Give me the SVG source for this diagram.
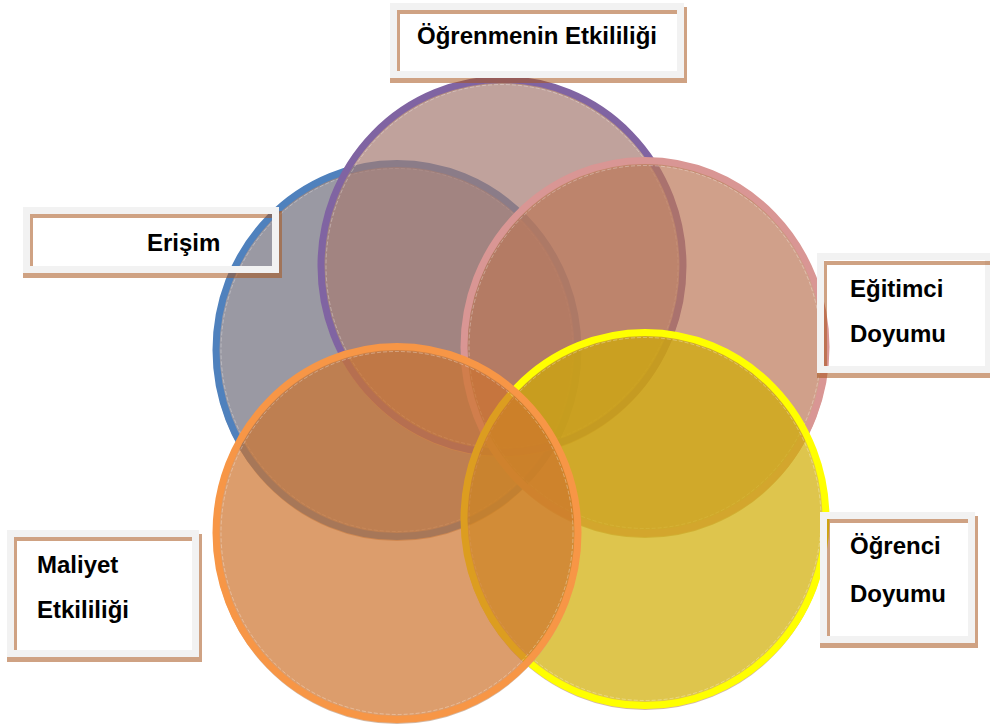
<svg xmlns="http://www.w3.org/2000/svg" width="990" height="728" viewBox="0 0 990 728">
<style>
.c{stroke-width:7;fill-opacity:.7}
.sh{fill:none;stroke:#c9a68c;stroke-width:5;opacity:.8}
.hl{fill:none;stroke:#fff;stroke-opacity:.3;stroke-width:1;stroke-dasharray:4 2}
.bg{fill:#fff}
.frame{fill:none;stroke:#f2f2f2;stroke-width:7}
.tan{fill:#a8561e;fill-opacity:.55}
.t{font-family:"Liberation Sans",Arial,sans-serif;font-weight:bold;font-size:24px;fill:#000}
</style>
<rect width="990" height="728" fill="#fff"/>
<g id="label-backgrounds">
<rect class="bg" x="397" y="10" width="280" height="61"/>
<rect class="bg" x="30" y="214" width="242" height="52"/>
<rect class="bg" x="824" y="260" width="166" height="106"/>
<rect class="bg" x="827" y="519" width="141" height="117"/>
<rect class="bg" x="14" y="537" width="178" height="113"/>
</g>
<g id="circle-erisim">
<ellipse class="sh" cx="397" cy="352" rx="181" ry="186.5"/>
<ellipse class="c" cx="397" cy="350" rx="181" ry="186.5" fill="#6f6d7c" stroke="#4f81bd"/>
<ellipse class="hl" cx="397" cy="350" rx="176" ry="181.5"/>
</g>
<g id="circle-ogrenmenin">
<ellipse class="sh" cx="502" cy="268" rx="181" ry="186.5"/>
<ellipse class="c" cx="502" cy="266" rx="181" ry="186.5" fill="#a57a72" stroke="#8064a2"/>
<ellipse class="hl" cx="502" cy="266" rx="176" ry="181.5"/>
</g>
<g id="circle-egitimci">
<ellipse class="sh" cx="645" cy="349" rx="181" ry="186.5"/>
<ellipse class="c" cx="645" cy="347" rx="181" ry="186.5" fill="#bc7758" stroke="#d99694"/>
<ellipse class="hl" cx="645" cy="347" rx="176" ry="181.5"/>
</g>
<g id="circle-ogrenci">
<ellipse class="sh" cx="645" cy="521" rx="181" ry="186.5"/>
<ellipse class="c" cx="645" cy="519" rx="181" ry="186.5" fill="#d0ac02" stroke="#ffff00"/>
<ellipse class="hl" cx="645" cy="519" rx="176" ry="181.5"/>
</g>
<g id="circle-maliyet">
<ellipse class="sh" cx="397" cy="535" rx="181" ry="186.5"/>
<ellipse class="c" cx="397" cy="533" rx="181" ry="186.5" fill="#cd732d" stroke="#f79646"/>
<ellipse class="hl" cx="397" cy="533" rx="176" ry="181.5"/>
</g>
<g id="connectors"/>
<g id="label-ogrenmenin">
<rect class="tan" x="390" y="78" width="297" height="5"/>
<rect class="tan" x="684" y="7" width="3" height="71"/>
<rect class="frame" x="393.5" y="6.5" width="287" height="68"/>
<rect class="tan" x="397" y="10" width="280" height="4"/>
<rect class="tan" x="397" y="14" width="3" height="57"/>
<text class="t" x="417" y="44">Öğrenmenin Etkililiği</text>
</g>
<g id="label-erisim">
<rect class="tan" x="23" y="273" width="259" height="5"/>
<rect class="tan" x="279" y="211" width="3" height="62"/>
<rect class="frame" x="26.5" y="210.5" width="249" height="59"/>
<rect class="tan" x="30" y="214" width="242" height="4"/>
<rect class="tan" x="30" y="218" width="3" height="48"/>
<text class="t" x="147" y="251">Erişim</text>
</g>
<g id="label-egitimci">
<rect class="tan" x="817" y="373" width="178" height="5"/>
<rect class="frame" x="820.5" y="256.5" width="168" height="113"/>
<rect class="tan" x="824" y="261" width="166" height="4"/>
<rect class="tan" x="824" y="265" width="3" height="101"/>
<text class="t" x="850" y="297">Eğitimci</text>
<text class="t" x="850" y="342">Doyumu</text>
</g>
<g id="label-ogrenci">
<rect class="tan" x="820" y="643" width="158" height="5"/>
<rect class="tan" x="975" y="516" width="3" height="127"/>
<rect class="frame" x="823.5" y="515.5" width="148" height="124"/>
<rect class="tan" x="827" y="519" width="141" height="4"/>
<rect class="tan" x="827" y="523" width="3" height="113"/>
<text class="t" x="850" y="554">Öğrenci</text>
<text class="t" x="850" y="602">Doyumu</text>
</g>
<g id="label-maliyet">
<rect class="tan" x="7" y="657" width="195" height="5"/>
<rect class="tan" x="199" y="534" width="3" height="123"/>
<rect class="frame" x="10.5" y="533.5" width="185" height="120"/>
<rect class="tan" x="14" y="537" width="178" height="4"/>
<rect class="tan" x="14" y="541" width="3" height="109"/>
<text class="t" x="37" y="573">Maliyet</text>
<text class="t" x="37" y="618">Etkililiği</text>
</g>
</svg>
